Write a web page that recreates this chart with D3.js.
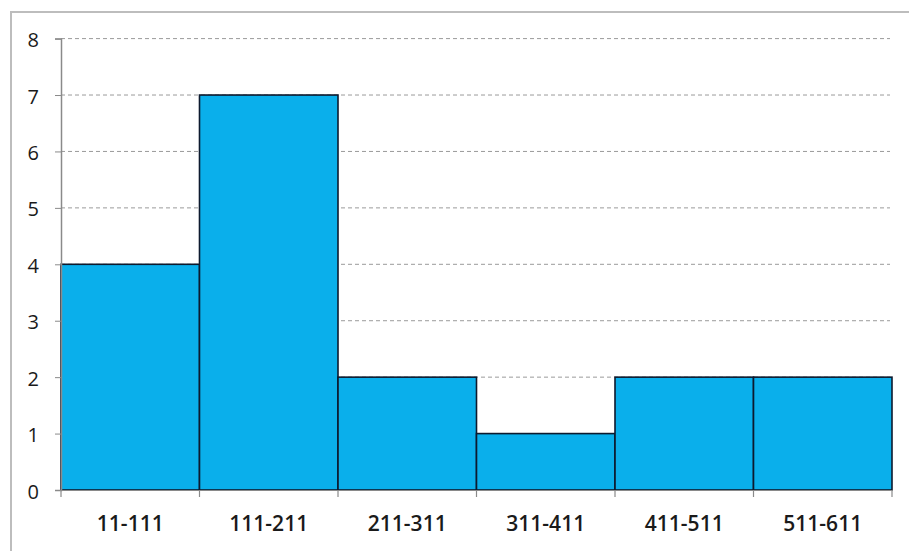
<!DOCTYPE html>
<html><head><meta charset="utf-8">
<script src="https://cdn.jsdelivr.net/npm/d3@7"></script>
<style>body{margin:0;background:#fff}svg{display:block}</style>
</head><body>
<script>
const categories = ["11-111","111-211","211-311","311-411","411-511","511-611"];
const counts = [4,7,2,1,2,2];
const yTicks = [0,1,2,3,4,5,6,7,8];

const W=909,H=551;
const svg=d3.select("body").append("svg").attr("width",W).attr("height",H);
svg.append("rect").attr("x",11).attr("y",12).attr("width",W).attr("height",H).attr("fill","#fff").attr("stroke","#bdbdbd").attr("stroke-width",2);

const x=d3.scaleBand().domain(categories).range([61,892]).padding(0);
const y=d3.scaleLinear().domain([0,8]).range([490,38.6]);

// gridlines
svg.append("g").selectAll("line").data(yTicks.filter(d=>d>0)).join("line")
  .attr("x1",61).attr("x2",890).attr("y1",d=>y(d)).attr("y2",d=>y(d))
  .attr("stroke","#9a9a9a").attr("stroke-width",1).attr("stroke-dasharray","4,3");

// bars
svg.append("g").selectAll("rect").data(counts).join("rect")
  .attr("x",(d,i)=>x(categories[i])).attr("width",x.bandwidth())
  .attr("y",d=>y(d)).attr("height",d=>y(0)-y(d))
  .attr("fill","#0AAFEB").attr("stroke","#0d1a2e").attr("stroke-width",1.6);

// y axis
const ya=d3.axisLeft(y).tickValues(yTicks).tickSize(6).tickPadding(16).tickFormat(d3.format("d"));
const gy=svg.append("g").attr("transform","translate(61,0)").call(ya);
gy.select(".domain").attr("stroke","#8a8a8a").attr("stroke-width",1.5);
gy.selectAll(".tick line").attr("stroke","#8a8a8a");
gy.selectAll("text").attr("font-family","Open Sans, sans-serif").attr("font-size",20).attr("font-weight",500).attr("fill","#1a1a1a").attr("dy","0.4em");

// x axis
const xa=d3.axisBottom(x).tickSize(0).tickPadding(26);
const gx=svg.append("g").attr("transform","translate(0,490)").call(xa);
gx.select(".domain").attr("stroke","#8a8a8a").attr("stroke-width",1);
gx.selectAll("text").attr("font-family","Open Sans, sans-serif").attr("font-size",21).attr("font-weight",600).attr("fill","#1a1a1a");
// boundary ticks
const bounds=categories.map(c=>x(c)).concat([x(categories[categories.length-1])+x.bandwidth()]);
svg.append("g").selectAll("line").data(bounds).join("line")
  .attr("x1",d=>d).attr("x2",d=>d).attr("y1",490).attr("y2",497)
  .attr("stroke","#8a8a8a").attr("stroke-width",1.2);
</script>
</body></html>
